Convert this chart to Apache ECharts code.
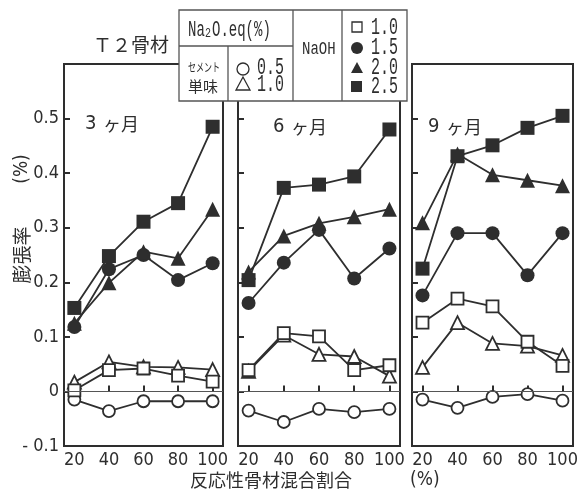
<!DOCTYPE html>
<html><head><meta charset="utf-8">
<script src="https://cdn.jsdelivr.net/npm/echarts@6/dist/echarts.min.js"></script>
<style>html,body{margin:0;padding:0;background:#fff}#c{width:585px;height:493px}</style>
</head><body><div id="c"></div>
<script>
// ---- data ----
const xValues = [20, 40, 60, 80, 100];
const yTickValues = [-0.1, 0, 0.1, 0.2, 0.3, 0.4, 0.5];
const panelNames = ['3', '6', '9'];

// 3 months
const m3_cement05 = [-0.015, -0.036, -0.018, -0.018, -0.018];
const m3_cement10 = [0.017, 0.054, 0.045, 0.044, 0.040];
const m3_naoh10 = [0.002, 0.039, 0.042, 0.029, 0.018];
const m3_naoh15 = [0.118, 0.224, 0.250, 0.204, 0.235];
const m3_naoh20 = [0.125, 0.199, 0.256, 0.244, 0.334];
const m3_naoh25 = [0.153, 0.248, 0.311, 0.345, 0.485];
// 6 months
const m6_cement05 = [-0.035, -0.056, -0.032, -0.038, -0.032];
const m6_cement10 = [0.037, 0.103, 0.068, 0.064, 0.028];
const m6_naoh10 = [0.039, 0.107, 0.101, 0.039, 0.048];
const m6_naoh15 = [0.162, 0.236, 0.296, 0.207, 0.262];
const m6_naoh20 = [0.219, 0.285, 0.308, 0.320, 0.334];
const m6_naoh25 = [0.204, 0.373, 0.379, 0.394, 0.480];
// 9 months
const m9_cement05 = [-0.015, -0.030, -0.010, -0.005, -0.017];
const m9_cement10 = [0.044, 0.126, 0.088, 0.083, 0.066];
const m9_naoh10 = [0.126, 0.170, 0.156, 0.091, 0.047];
const m9_naoh15 = [0.176, 0.290, 0.290, 0.213, 0.290];
const m9_naoh20 = [0.309, 0.435, 0.397, 0.387, 0.377];
const m9_naoh25 = [0.225, 0.431, 0.451, 0.483, 0.505];

const panels = [
  [m3_cement05, m3_cement10, m3_naoh10, m3_naoh15, m3_naoh20, m3_naoh25],
  [m6_cement05, m6_cement10, m6_naoh10, m6_naoh15, m6_naoh20, m6_naoh25],
  [m9_cement05, m9_cement10, m9_naoh10, m9_naoh15, m9_naoh20, m9_naoh25]
];

// ---- styles ----
const INK = '#2e2e2e';
const styles = [
  {symbol: 'circle', size: 12, filled: false},
  {symbol: 'triangle', size: 13, filled: false},
  {symbol: 'rect', size: 12, filled: false},
  {symbol: 'circle', size: 14, filled: true},
  {symbol: 'triangle', size: 15, filled: true},
  {symbol: 'rect', size: 14, filled: true}
];
const gridPos = [
  {left: 64, width: 159},
  {left: 238, width: 162},
  {left: 412, width: 161}
];
const NUMFONT = '"DejaVu Sans Condensed", "DejaVu Sans", sans-serif';
const CJK = '"Noto Sans CJK JP", sans-serif';
const MONO = '"Liberation Mono", "DejaVu Sans Mono", monospace';

const grids = [], xAxes = [], yAxes = [], series = [];
gridPos.forEach((g, i) => {
  grids.push({left: g.left, width: g.width, top: 64, bottom: 47, show: true,
    borderColor: INK, borderWidth: 2, backgroundColor: 'transparent'});
  xAxes.push({type: 'value', gridIndex: i, min: 14, max: 106,
    axisLine: {show: false},
    splitLine: {show: false},
    axisTick: {show: true, inside: true, length: 6, customValues: xValues, lineStyle: {color: INK, width: 2}},
    axisLabel: {show: true, customValues: xValues, margin: 5, color: INK,
      fontFamily: NUMFONT, fontSize: 18}
  });
  yAxes.push({type: 'value', gridIndex: i, min: -0.1, max: 0.6, interval: 0.1,
    axisLine: {show: false},
    splitLine: {show: false},
    axisTick: {show: true, inside: true, length: 6, customValues: yTickValues, lineStyle: {color: INK, width: 2}},
    axisLabel: {show: i === 0, customValues: yTickValues, margin: 5, color: INK,
      fontFamily: NUMFONT, fontSize: 18,
      formatter: v => { const r = Math.round(v * 10) / 10; return r === 0 ? '0' : (r < 0 ? '- ' + Math.abs(r).toFixed(1) : r.toFixed(1)); }}
  });
  panels[i].forEach((vals, k) => {
    const st = styles[k];
    const s = {
      type: 'line', xAxisIndex: i, yAxisIndex: i,
      data: xValues.map((x, j) => [x, vals[j]]),
      symbol: st.symbol, symbolSize: st.size, showAllSymbol: true,
      lineStyle: {color: INK, width: 1.8},
      itemStyle: {color: st.filled ? INK : '#fff', borderColor: INK, borderWidth: st.filled ? 0 : 1.8},
      z: st.filled ? 3 : 4,
      animation: false, silent: true
    };
    if (k === 0) {
      s.markLine = {silent: true, symbol: ['none', 'none'], label: {show: false},
        lineStyle: {color: '#555', width: 1, type: 'solid'},
        data: [{yAxis: 0}], animation: false};
    }
    series.push(s);
  });
});

// ---- graphic (titles, legend box) ----
const graphic = [];
function txt(x, y, text, font, opts) {
  graphic.push(Object.assign({type: 'text', x: x, y: y, z: 100,
    style: Object.assign({text: text, font: font, fill: INK, align: 'left', verticalAlign: 'middle'}, (opts && opts.style) || {})},
    opts && opts.el || {}));
}
// main title
txt(93, 45, 'Ｔ２骨材', '19px ' + CJK);
// panel titles
const ptPos = [[85, 124], [273, 127], [428, 127]];
panelNames.forEach((n, i) => {
  txt(ptPos[i][0], ptPos[i][1], n, '20px ' + NUMFONT);
  txt(ptPos[i][0] + 18, ptPos[i][1], 'ヶ月', '18px ' + CJK);
});
// y axis name (rotated)
txt(22, 255, '膨張率', '19px ' + CJK, {style: {align: 'center'}, el: {rotation: Math.PI / 2}});
txt(22, 169, '(%)', '19px ' + NUMFONT, {style: {align: 'center'}, el: {rotation: Math.PI / 2}});
// x axis name
txt(190, 480, '反応性骨材混合割合', '18px ' + CJK);
txt(410, 480, '(%)', '19px ' + NUMFONT);

// legend box
graphic.push({type: 'rect', shape: {x: 179, y: 10, width: 228, height: 91}, z: 90,
  style: {fill: '#fff', stroke: '#555', lineWidth: 1.3}});
function ln(x1, y1, x2, y2) {
  graphic.push({type: 'line', shape: {x1, y1, x2, y2}, z: 91, style: {stroke: '#555', lineWidth: 1.3}});
}
ln(179, 46, 293, 46);
ln(228, 46, 228, 101);
ln(293, 10, 293, 101);
ln(342, 10, 342, 101);
const mono = (x, y, t, size, sy) => txt(x, y, t, size + 'px ' + MONO, {el: {scaleY: sy || 1.55}});
mono(188, 30, 'Na', 14);
mono(205, 34, '2', 10, 1.3);
mono(212, 30, 'O.eq(%)', 14);
mono(302, 49, 'NaOH', 14, 1.3);
txt(188, 67, 'セメント', '8px ' + CJK, {el: {scaleY: 1.5}});
txt(188, 86, '単味', '15px ' + CJK);
mono(257, 68, '0.5', 15);
mono(257, 85, '1.0', 15);
mono(371, 28, '1.0', 15);
mono(371, 48, '1.5', 15);
mono(371, 68, '2.0', 15);
mono(371, 87, '2.5', 15);
// legend symbols
graphic.push({type: 'circle', shape: {cx: 243, cy: 69, r: 6}, z: 95, style: {fill: '#fff', stroke: INK, lineWidth: 1.3}});
graphic.push({type: 'polygon', shape: {points: [[243, 77], [236, 90], [250, 90]]}, z: 95, style: {fill: '#fff', stroke: INK, lineWidth: 1.3}});
graphic.push({type: 'rect', shape: {x: 352, y: 22, width: 10, height: 10}, z: 95, style: {fill: '#fff', stroke: INK, lineWidth: 1.3}});
graphic.push({type: 'circle', shape: {cx: 357, cy: 48, r: 6}, z: 95, style: {fill: INK}});
graphic.push({type: 'polygon', shape: {points: [[357, 62], [351, 73], [363, 73]]}, z: 95, style: {fill: INK}});
graphic.push({type: 'rect', shape: {x: 351, y: 81, width: 11, height: 11}, z: 95, style: {fill: INK}});

const chart = echarts.init(document.getElementById('c'), null, {renderer: 'canvas'});
chart.setOption({
  backgroundColor: '#fff',
  animation: false,
  grid: grids, xAxis: xAxes, yAxis: yAxes, series: series, graphic: graphic
});
</script></body></html>
